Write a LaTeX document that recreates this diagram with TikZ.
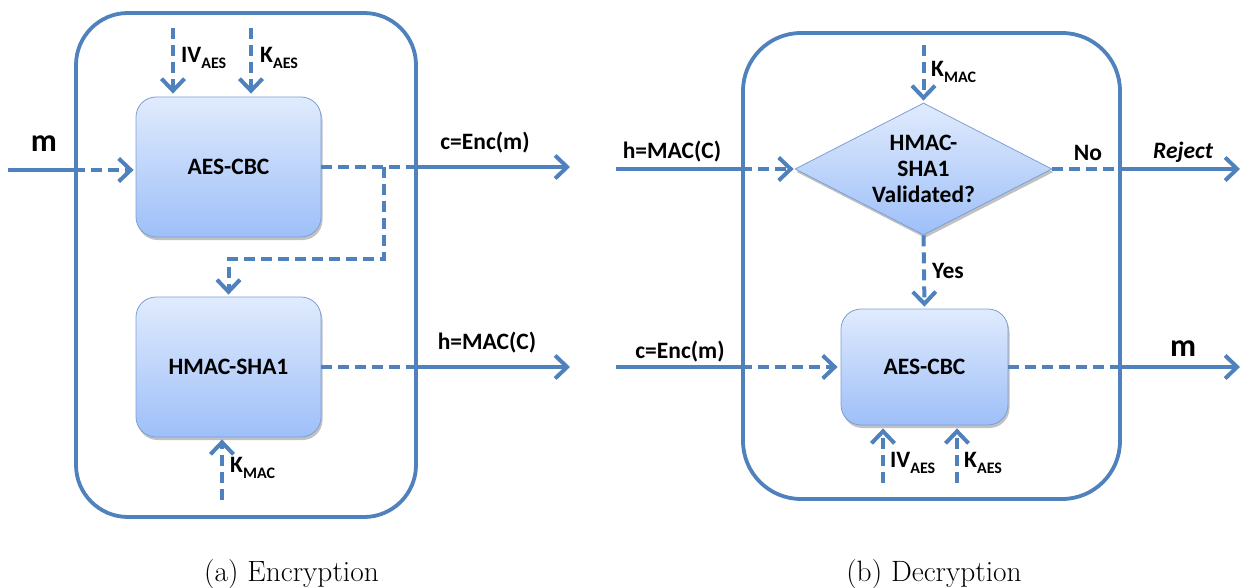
\documentclass[tikz,border=0pt]{standalone}
\usepackage{fontspec}
\newfontfamily\calfont{Carlito}
\usetikzlibrary{arrows.meta,shapes.geometric,shadows}
\definecolor{lineblue}{HTML}{4F81BD}
\definecolor{boxtop}{HTML}{E0EBFD}
\definecolor{boxbot}{HTML}{9EBFF8}
\definecolor{boxedge}{HTML}{7C9FD6}
\newcommand\lblfont{\calfont\bfseries\fontsize{23.5}{26}\selectfont}
\newcommand\sublbl[2]{{\lblfont #1}\raisebox{-5.5pt}{\calfont\bfseries\fontsize{16}{18}\selectfont #2}}
\tikzset{
  frame/.style={draw=lineblue,line width=3.8pt,rounded corners=#1,inner sep=0pt},
  procbox/.style={draw=boxedge,line width=0.8pt,top color=boxtop,bottom color=boxbot,
    rounded corners=20pt,inner sep=0pt,font=\lblfont,
    drop shadow={shadow xshift=1.5pt,shadow yshift=-3pt,opacity=0.35,fill=black!70}},
  decbox/.style={procbox,shape=diamond,rounded corners=0pt,align=center},
  solidline/.style={draw=lineblue,line width=4pt},
  dashline/.style={draw=lineblue,line width=4pt,dash pattern=on 11pt off 6pt},
  arr/.style={-{Straight Barb[length=12pt,width=23pt]}},
  lbl/.style={font=\lblfont,inner sep=0pt,text=black},
  biglbl/.style={lbl,font=\calfont\bfseries\fontsize{32}{34}\selectfont},
  caption/.style={font=\fontsize{29.4}{32}\selectfont,inner sep=0pt,anchor=base}
}
\begin{document}
\begin{tikzpicture}[x=1pt,y=-1pt]
\useasboundingbox (0,0) rectangle (1247,588);
% ---------- Encryption ----------
\node[frame=52pt,minimum width=340pt,minimum height=504pt] (fa) at (246,265) {};
\node[procbox,minimum width=185pt,minimum height=140pt] (aes1) at (228.5,167) {AES-CBC};
\node[procbox,minimum width=185pt,minimum height=140pt] (hm1) at (228.5,367) {HMAC-SHA1};
\coordinate (min) at (8,170);
\coordinate (iv1) at (173,28);
\coordinate (k1) at (251,28);
\coordinate (cout) at (570,167);
\coordinate (hout) at (570,367);
\coordinate (br) at (384,167);
\coordinate (brc) at (228.5,259);
\coordinate (km1) at (222,500);
\draw[solidline] (min) -- (fa.west |- min);
\draw[dashline,arr,shorten >=2pt] (fa.west |- min) -- (aes1.west |- min);
\draw[dashline,arr,shorten >=3pt] (iv1) -- (iv1 |- aes1.north);
\draw[dashline,arr,shorten >=3pt] (k1) -- (k1 |- aes1.north);
\draw[dashline] (aes1.east) -- (fa.east |- aes1.east);
\draw[solidline,arr] (fa.east |- aes1.east) -- (cout);
\draw[dashline,arr,shorten >=2pt] (br) -- (br |- brc) -- (brc) -- (hm1.north);
\draw[dashline] (hm1.east) -- (fa.east |- hm1.east);
\draw[solidline,arr] (fa.east |- hm1.east) -- (hout);
\draw[dashline,arr,shorten >=2pt] (km1) -- (km1 |- hm1.south);
\node[biglbl] (lm) at (44,144) {m};
\node[lbl] (lc1) at (485,143) {c=Enc(m)};
\node[lbl] (lh1) at (487,343) {h=MAC(C)};
\node[lbl,anchor=west] (liv1) at (181,58) {\sublbl{IV}{AES}};
\node[lbl,anchor=west] (lk1) at (260,58) {\sublbl{K}{AES}};
\node[lbl,anchor=west] (lkm1) at (230,468) {\sublbl{K}{MAC}};
\node[caption] (capa) at (291.5,581) {(a) Encryption};
% ---------- Decryption ----------
\node[frame=58pt,minimum width=377pt,minimum height=466pt] (fb) at (931.5,266) {};
\node[decbox,minimum width=257pt,minimum height=132pt,aspect=1.95] (dia) at (923.5,169) {HMAC-\\SHA1\\Validated?};
\node[procbox,minimum width=167pt,minimum height=116pt] (aes2) at (924.5,367) {AES-CBC};
\coordinate (hin) at (616,169);
\coordinate (cin) at (616,367);
\coordinate (km2) at (923.5,45);
\coordinate (rej) at (1240,169);
\coordinate (mout) at (1240,367);
\coordinate (iv2) at (883,483);
\coordinate (k2) at (957,483);
\draw[solidline] (hin) -- (fb.west |- hin);
\draw[dashline,arr,shorten >=1pt] (fb.west |- hin) -- (dia.west);
\draw[dashline,arr,shorten >=2pt] (km2) -- (dia.north);
\draw[dashline] (dia.east) -- (fb.east |- dia.east);
\draw[solidline,arr] (fb.east |- dia.east) -- (rej);
\draw[dashline,arr,shorten >=2pt] (dia.south) -- (aes2.north);
\draw[solidline] (cin) -- (fb.west |- cin);
\draw[dashline,arr,shorten >=3pt] (fb.west |- cin) -- (aes2.west);
\draw[dashline] (aes2.east) -- (fb.east |- aes2.east);
\draw[solidline,arr] (fb.east |- aes2.east) -- (mout);
\draw[dashline,arr,shorten >=3pt] (iv2) -- (iv2 |- aes2.south);
\draw[dashline,arr,shorten >=3pt] (k2) -- (k2 |- aes2.south);
\node[lbl] (lh2) at (672,152) {h=MAC(C)};
\node[lbl] (lc2) at (680,352) {c=Enc(m)};
\node[lbl,anchor=west] (lkm2) at (931,72) {\sublbl{K}{MAC}};
\node[lbl] (lno) at (1088,153) {No};
\node[lbl,font=\calfont\bfseries\itshape\fontsize{23.5}{26}\selectfont] (lrej) at (1183,152) {Reject};
\node[biglbl] (lm2) at (1183,349) {m};
\node[lbl,anchor=west] (lyes) at (932,271) {Yes};
\node[lbl,anchor=west] (liv2) at (890,463) {\sublbl{IV}{AES}};
\node[lbl,anchor=west] (lk2) at (964,463) {\sublbl{K}{AES}};
\node[caption] (capb) at (934,581) {(b) Decryption};
\end{tikzpicture}
\end{document}
